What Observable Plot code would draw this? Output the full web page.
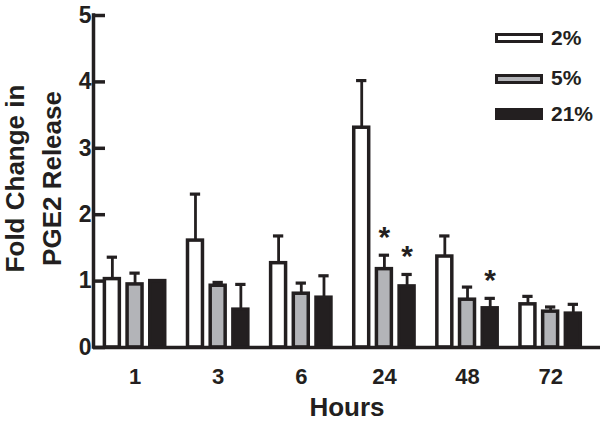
<!DOCTYPE html>
<html>
<head>
<meta charset="utf-8">
<script src="https://cdn.jsdelivr.net/npm/d3@7"></script>
<script src="https://cdn.jsdelivr.net/npm/@observablehq/plot@0.6"></script>
<style>
  html, body { margin: 0; padding: 0; background: #fff; }
  #wrap { position: relative; width: 605px; height: 422px; font-family: "Liberation Sans", Arial, sans-serif; color: #231f20; }
  .sw { position: absolute; left: 495px; width: 48px; box-sizing: border-box; border: 3.5px solid #231f20; }
  .lab { position: absolute; left: 551px; height: 26px; line-height: 26px; font-size: 21px; font-weight: bold; }
</style>
</head>
<body>
<div id="wrap"></div>
<script>
// ---- data ----
const hours = ["1", "3", "6", "24", "48", "72"];
const concs = ["2%", "5%", "21%"];
const mean2  = [1.03, 1.61, 1.27, 3.31, 1.37, 0.65];
const err2   = [1.36, 2.31, 1.68, 4.02, 1.68, 0.77];
const mean5  = [0.95, 0.93, 0.81, 1.18, 0.72, 0.54];
const err5   = [1.12, 0.98, 0.97, 1.39, 0.91, 0.61];
const mean21 = [1.00, 0.57, 0.75, 0.92, 0.59, 0.51];
const err21  = [null, 0.95, 1.08, 1.10, 0.74, 0.65];
const sig2   = [false, false, false, false, false, false];
const sig5   = [false, false, false, true, false, false];
const sig21  = [false, false, false, true, true, false];
const yTicks = [0, 1, 2, 3, 4, 5];
const yTitle = "Fold Change in\nPGE2 Release";
const xTitle = "Hours";

const dark = "#231f20";
const fills = ["#ffffff", "#b3b4b8", "#231f20"];
const means = [mean2, mean5, mean21];
const errs = [err2, err5, err21];
const sigs = [sig2, sig5, sig21];

const rows = hours.flatMap((h, i) => concs.map((c, j) => ({
  i, j, hour: h, conc: c, mean: means[j][i], err: errs[j][i], sig: sigs[j][i]
})));

const off = 0.273, hw = 0.09, cap = 0.062;
const pos = d => d.i + (d.j - 1) * off;
const withErr = rows.filter(d => d.err != null);

const chart = Plot.plot({
  width: 605, height: 422,
  marginLeft: 93, marginRight: 5, marginTop: 15, marginBottom: 75,
  x: {domain: [-0.5, 5.6], axis: null, label: null},
  y: {domain: [0, 5], axis: null, label: null},
  style: {fontFamily: "'Liberation Sans', Arial, sans-serif", color: dark, background: "white", overflow: "visible"},
  marks: [
    Plot.ruleX(withErr, {x: pos, y1: "mean", y2: "err", stroke: dark, strokeWidth: 2.8}),
    Plot.ruleY(withErr, {y: "err", x1: d => pos(d) - cap, x2: d => pos(d) + cap, stroke: dark, strokeWidth: 3.2}),
    Plot.rectY(rows, {x1: d => pos(d) - hw, x2: d => pos(d) + hw, y1: 0, y2: "mean", fill: d => fills[d.j], stroke: dark, strokeWidth: 3.5}),
    Plot.text(rows.filter(d => d.sig), {x: pos, y: "err", text: () => "*", dy: -18, fontSize: 30, fontWeight: "bold", fill: dark}),
    Plot.ruleY([0], {stroke: dark, strokeWidth: 3.5}),
    Plot.ruleX([-0.5], {y1: 0, y2: 5, stroke: dark, strokeWidth: 3.5, strokeLinecap: "square"}),
    Plot.tickY(yTicks, {y: d => d, insetRight: 495, stroke: dark, strokeWidth: 3.5}),
    Plot.text(yTicks, {y: d => d, text: d => String(d), frameAnchor: "left", textAnchor: "end", lineAnchor: "middle", dx: -2, fontSize: 23, fontWeight: "bold", fill: dark}),
    Plot.axisX(d3.range(hours.length), {tickSize: 0, tickPadding: 21, tickFormat: i => hours[i], fontSize: 22, fontWeight: "bold", label: null}),
    Plot.text([xTitle], {frameAnchor: "bottom", lineAnchor: "middle", textAnchor: "middle", dy: 60, fontSize: 26, fontWeight: "bold", fill: dark}),
    Plot.text([yTitle], {frameAnchor: "left", textAnchor: "middle", lineAnchor: "middle", rotate: -90, dx: -63, dy: -3, fontSize: 26, fontWeight: "bold", lineHeight: 1.42, fill: dark})
  ]
});

const wrap = document.getElementById("wrap");
wrap.appendChild(chart);
chart.style.position = "absolute";
chart.style.left = "0px";
chart.style.top = "0px";

// legend (overlay in the top-right)
const legendTops = [33, 74, 108];
const legendHeights = [10, 10, 12];
const labelCenters = [38, 78, 114];
concs.forEach((c, j) => {
  const sw = document.createElement("div");
  sw.className = "sw";
  sw.style.top = legendTops[j] + "px";
  sw.style.height = legendHeights[j] + "px";
  sw.style.background = fills[j];
  wrap.appendChild(sw);
  const lab = document.createElement("div");
  lab.className = "lab";
  lab.style.top = (labelCenters[j] - 13) + "px";
  lab.textContent = c;
  wrap.appendChild(lab);
});
</script>
</body>
</html>
